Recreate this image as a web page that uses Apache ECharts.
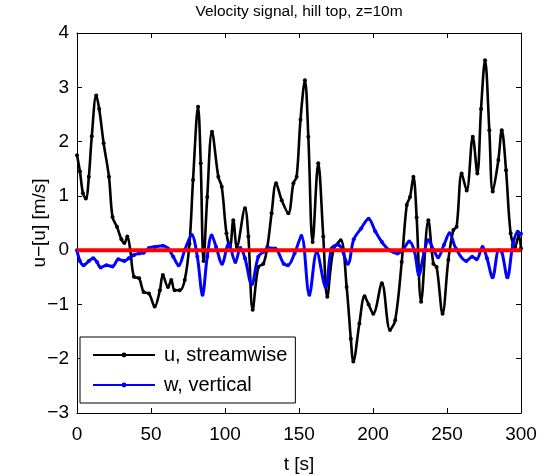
<!DOCTYPE html>
<html>
<head>
<meta charset="utf-8">
<script src="https://cdn.jsdelivr.net/npm/echarts@6/dist/echarts.min.js"></script>
<style>html,body{margin:0;padding:0;background:#fff}#c{width:555px;height:476px}</style>
</head>
<body>
<div id="c"></div>
<script>
var titleText = 'Velocity signal, hill top, z=10m';
var xLabel = 't [s]';
var yLabel = 'u\u2212[u] [m/s]';
var seriesNames = ['u, streamwise', 'w, vertical'];
var xTicks = [0, 50, 100, 150, 200, 250, 300];
var yTicks = [-3, -2, -1, 0, 1, 2, 3, 4];

var uT = [0,2,4,6,8,10,13,15,18,21.6,24,27,30,32,34,36,38.5,42,45,48.6,52.5,56,58,61.5,63.7,66,69.4,72.8,76,78.4,81.8,83.6,85.5,88,91.2,95.5,97.8,101,103.4,105.6,108,113.5,115.8,118.7,122.5,125.9,128.6,131.5,134.5,138.3,142.8,146.2,148.4,151,154,156.3,159.2,163,166.4,169.1,173.2,178.2,182.2,185,186.7,190.8,194.3,197,200.2,206,211.5,215,219.4,222.8,225,227.3,229.5,232.5,237.4,240.8,243,247,250.9,254.3,256.5,259.9,263.3,267.4,270.5,273,275.7,278.6,280.9,284.7,287,289.9,293,296,298.5,300];
var uV = [1.75,1.45,1.05,0.95,1.35,2.1,2.85,2.6,1.97,1.35,0.61,0.43,0.2,0.13,0.25,0.0,-0.49,-0.52,-0.77,-0.8,-1.04,-0.74,-0.46,-0.68,-0.55,-0.74,-0.74,-0.55,0.12,1.29,2.64,1.6,-0.2,0.98,2.18,1.35,1.17,0.31,0.06,0.55,0.06,0.77,0.25,-1.1,-0.31,-0.25,0.06,0.68,1.23,0.92,0.68,1.23,1.35,2.4,3.13,2.09,0.15,1.6,0.25,-0.86,0.0,0.18,-0.68,-1.63,-2.05,-1.35,-0.85,-1.0,-1.17,-0.61,-1.47,-1.29,-0.22,0.83,0.98,1.35,0.6,-0.95,0.55,-0.25,-0.31,-1.17,-0.18,0.37,0.43,1.41,1.1,2.09,1.41,2.6,3.5,2.21,1.08,1.66,2.21,1.47,0.31,0.06,0.28,0.03];

var wT = [0,2,4.5,8,11,13.5,16,20,24,28,32,35,38.5,42,45,48.6,52.5,58,61.5,65,68.7,72.8,77.5,81.3,84.8,88,91,94,98,102.5,107,110.4,113.5,118,122.5,126,129.3,134,139.6,142.5,147,151.6,157,162,168,172,176.5,183,187,192,197,201.5,206,211,216.5,220,224.5,228,231,234.5,237.4,241,244,248,251.7,256,263,267,270,274,277,280.8,285,287,290.8,294.5,297.8,300];
var wV = [0.0,-0.2,-0.28,-0.2,-0.15,-0.22,-0.32,-0.28,-0.3,-0.17,-0.2,-0.15,-0.09,-0.06,-0.05,0.04,0.06,0.08,0.03,-0.12,-0.28,0.0,0.28,-0.12,-0.82,-0.12,0.27,0.06,-0.25,0.12,-0.22,0.04,-0.15,-0.63,-0.12,-0.03,0.04,0.03,-0.25,-0.28,-0.06,0.26,-0.82,-0.04,-0.68,0.03,0.1,-0.25,0.2,0.4,0.58,0.35,0.15,0.0,-0.06,0.0,0.16,-0.02,-0.45,-0.05,0.18,0.0,-0.13,0.1,0.31,0.03,-0.2,-0.12,-0.17,0.06,-0.15,-0.5,0.0,-0.03,-0.5,0.1,0.34,0.3];

var refT = [0, 300];
var refV = [0, 0];

function pairs(t, v) { return t.map(function (x, i) { return [x, v[i]]; }); }
function fmt(v) { return String(v).replace('-', '\u2212'); }

var FONT = 'Liberation Sans';
var FS = 19;
var axisCommon = {
  type: 'value',
  axisLine: { show: true, onZero: false, lineStyle: { color: '#000', width: 1 } },
  axisTick: { show: true, inside: true, length: 5, lineStyle: { color: '#000' } },
  splitLine: { show: false }
};

var chart = echarts.init(document.getElementById('c'), null, { renderer: 'canvas' });
chart.setOption({
  animation: false,
  backgroundColor: '#fff',
  title: {
    text: titleText, left: 299, top: 4, padding: 0, textAlign: 'center',
    textStyle: { fontFamily: FONT, fontSize: 15.5, fontWeight: 'normal', color: '#000' }
  },
  grid: { left: 77, right: 34, top: 33, bottom: 63, outerBoundsMode: 'none', containLabel: false },
  legend: {
    data: seriesNames,
    orient: 'vertical', left: 80, top: 337,
    padding: [8, 8, 8, 12], itemGap: 10,
    itemWidth: 62, itemHeight: 6,
    borderColor: '#000', borderWidth: 1, backgroundColor: '#fff',
    textStyle: { fontFamily: FONT, fontSize: 20, color: '#000', padding: [0, 0, 0, 4] }
  },
  xAxis: [
    Object.assign({}, axisCommon, {
      min: xTicks[0], max: xTicks[xTicks.length - 1], interval: 50, position: 'bottom',
      name: xLabel, nameLocation: 'middle', nameGap: 42, nameMoveOverlap: false,
      nameTextStyle: { fontFamily: FONT, fontSize: FS, color: '#000' },
      axisLabel: { color: '#000', fontFamily: FONT, fontSize: FS, margin: 12, formatter: fmt }
    }),
    Object.assign({}, axisCommon, {
      min: xTicks[0], max: xTicks[xTicks.length - 1], interval: 50, position: 'top',
      axisLabel: { show: false }
    })
  ],
  yAxis: [
    Object.assign({}, axisCommon, {
      min: yTicks[0], max: yTicks[yTicks.length - 1], interval: 1, position: 'left',
      name: yLabel, nameLocation: 'middle', nameGap: 28, nameMoveOverlap: false,
      nameTextStyle: { fontFamily: FONT, fontSize: FS, color: '#000' },
      axisLabel: { color: '#000', fontFamily: FONT, fontSize: FS, margin: 8, formatter: fmt }
    }),
    Object.assign({}, axisCommon, {
      min: yTicks[0], max: yTicks[yTicks.length - 1], interval: 1, position: 'right',
      axisLabel: { show: false }
    })
  ],
  series: [
    {
      name: seriesNames[0], type: 'line', data: pairs(uT, uV), smooth: 0.35,
      symbol: 'circle', symbolSize: 4, showSymbol: true,
      lineStyle: { color: '#000', width: 2.6 }, itemStyle: { color: '#000' }, z: 2
    },
    {
      name: seriesNames[1], type: 'line', data: pairs(wT, wV), smooth: 0.35,
      symbol: 'circle', symbolSize: 4, showSymbol: true,
      lineStyle: { color: '#0000ff', width: 3 }, itemStyle: { color: '#0000ff' }, z: 3
    },
    {
      name: 'zero', type: 'line', data: pairs(refT, refV), symbol: 'none',
      lineStyle: { color: '#ff0000', width: 4 }, z: 4, silent: true
    }
  ]
});
</script>
</body>
</html>
